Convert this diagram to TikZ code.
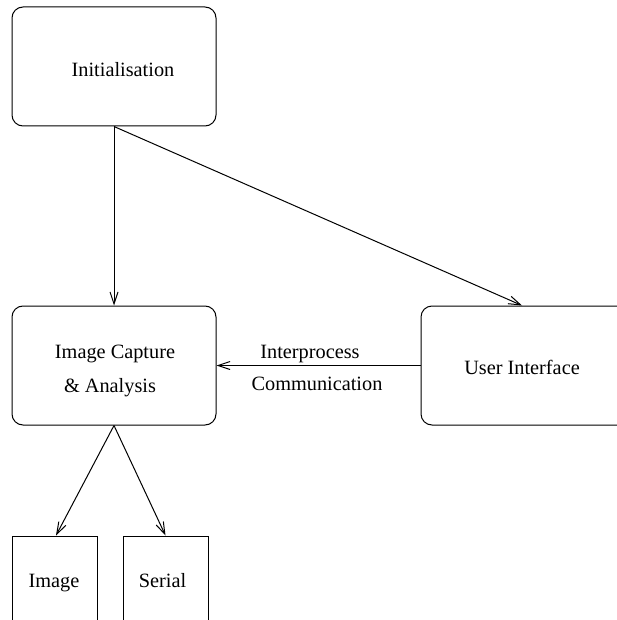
\documentclass[tikz,border=0pt]{standalone}
\usepackage{fontspec}
\setmainfont{Liberation Serif}
\usetikzlibrary{arrows.meta}
\begin{document}
\begin{tikzpicture}[x=1pt,y=-1pt,
  every node/.style={font=\fontsize{20.3}{24}\selectfont},
  label/.style={anchor=base, inner sep=0pt},
  roundbox/.style={draw, line width=1pt, rounded corners=11pt, inner sep=0pt},
  plainbox/.style={draw, line width=1pt, inner sep=0pt},
  flow/.style={line width=1pt, -{Straight Barb[length=12pt,width=8pt,line width=1pt]}}
]
  % page frame and clipping (the right and bottom boxes run off the edge)
  \useasboundingbox (0,0) rectangle (617,620);
  \clip (0,0) rectangle (617,620);

  % boxes
  \node[roundbox, minimum width=204pt, minimum height=119pt] (init) at (114,66.5) {};
  \node[roundbox, minimum width=204pt, minimum height=119pt] (cap)  at (114,365.5) {};
  \node[roundbox, minimum width=220pt, minimum height=119pt] (ui)   at (531,365.5) {};
  \node[plainbox, minimum width=85pt, minimum height=110pt] (img)  at (54.5,591) {};
  \node[plainbox, minimum width=85pt, minimum height=110pt] (ser)  at (165.5,591) {};

  % texts (placed on their baselines)
  \node[label] (tinit) at (123,77) {Initialisation};
  \node[label] (tcap1) at (115,358) {Image Capture};
  \node[label] (tcap2) at (110,392) {\& Analysis};
  \node[label] (tui)   at (522,374) {User Interface};
  \node[label] (timg)  at (54,587) {Image};
  \node[label] (tser)  at (162.5,587) {Serial};
  \node[label] (tipc1) at (310,358) {Interprocess};
  \node[label] (tipc2) at (317,390) {Communication};

  % connectors
  \draw[flow] (init.south) -- (cap.north);
  \draw[flow] (init.south) -- ([xshift=-9pt]ui.north);
  \draw[flow] (ui.west) -- (cap.east);
  \draw[flow] (cap.south) -- ([xshift=1.5pt]img.north);
  \draw[flow] (cap.south) -- (ser.north);
\end{tikzpicture}
\end{document}
